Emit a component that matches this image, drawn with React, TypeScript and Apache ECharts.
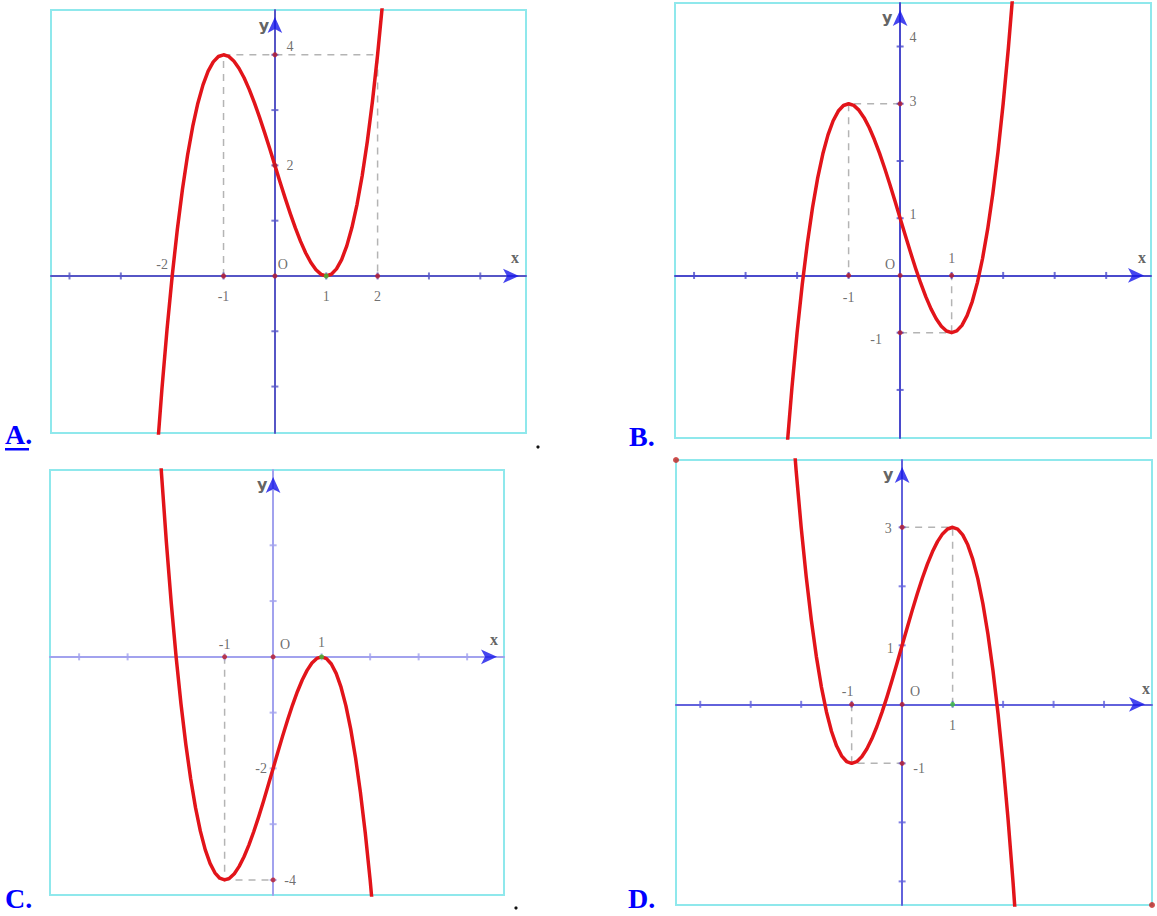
import React, { useEffect, useRef } from "react";
import * as echarts from "echarts";

// x positions at which the curves are read
const XS = [
  -2.4, -2.3, -2.2, -2.1, -2.0, -1.9, -1.8, -1.7, -1.6, -1.5, -1.4, -1.3, -1.2, -1.1, -1.0,
  -0.9, -0.8, -0.7, -0.6, -0.5, -0.4, -0.3, -0.2, -0.1, 0, 0.1, 0.2, 0.3, 0.4, 0.5, 0.6, 0.7,
  0.8, 0.9, 1.0, 1.1, 1.2, 1.3, 1.4, 1.5, 1.6, 1.7, 1.8, 1.9, 2.0, 2.1, 2.2, 2.3, 2.4,
];

const CURVE_A = [
  -4.624, -3.267, -2.048, -0.961, 0, 0.841, 1.568, 2.187, 2.704, 3.125, 3.456, 3.703, 3.872, 3.969, 4,
  3.971, 3.888, 3.757, 3.584, 3.375, 3.136, 2.873, 2.592, 2.299, 2, 1.701, 1.408, 1.127, 0.864, 0.625,
  0.416, 0.243, 0.112, 0.029, 0, 0.031, 0.128, 0.297, 0.544, 0.875, 1.296, 1.813, 2.432, 3.159, 4,
  4.961, 6.048, 7.267, 8.624,
];
const CURVE_B = [
  -5.624, -4.267, -3.048, -1.961, -1, -0.159, 0.568, 1.187, 1.704, 2.125, 2.456, 2.703, 2.872, 2.969, 3,
  2.971, 2.888, 2.757, 2.584, 2.375, 2.136, 1.873, 1.592, 1.299, 1, 0.701, 0.408, 0.127, -0.136, -0.375,
  -0.584, -0.757, -0.888, -0.971, -1, -0.969, -0.872, -0.703, -0.456, -0.125, 0.296, 0.813, 1.432, 2.159, 3,
  3.961, 5.048, 6.267, 7.624,
];
const CURVE_C = [
  4.624, 3.267, 2.048, 0.961, 0, -0.841, -1.568, -2.187, -2.704, -3.125, -3.456, -3.703, -3.872, -3.969, -4,
  -3.971, -3.888, -3.757, -3.584, -3.375, -3.136, -2.873, -2.592, -2.299, -2, -1.701, -1.408, -1.127, -0.864, -0.625,
  -0.416, -0.243, -0.112, -0.029, 0, -0.031, -0.128, -0.297, -0.544, -0.875, -1.296, -1.813, -2.432, -3.159, -4,
  -4.961, -6.048, -7.267, -8.624,
];
const CURVE_D = [
  7.624, 6.267, 5.048, 3.961, 3, 2.159, 1.432, 0.813, 0.296, -0.125, -0.456, -0.703, -0.872, -0.969, -1,
  -0.971, -0.888, -0.757, -0.584, -0.375, -0.136, 0.127, 0.408, 0.701, 1, 1.299, 1.592, 1.873, 2.136, 2.375,
  2.584, 2.757, 2.888, 2.971, 3, 2.969, 2.872, 2.703, 2.456, 2.125, 1.704, 1.187, 0.568, -0.159, -1,
  -1.961, -3.048, -4.267, -5.624,
];

// axis ticks
const TICKS_X = [-4, -3, -2, -1, 1, 2, 3, 4];
const TICKS_Y_A = [-2, -1, 1, 2, 3, 4];
const TICKS_Y_B = [-2, -1, 1, 2, 3, 4];
const TICKS_Y_C = [-4, -3, -2, -1, 1, 2, 3];
const TICKS_Y_D = [-3, -2, -1, 1, 2, 3];

// dashed guide polylines
const GUIDES_A = [[[-1, 0], [-1, 4], [2, 4], [2, 0]]];
const GUIDES_B = [[[0, 3], [-1, 3], [-1, 0]], [[0, -1], [1, -1], [1, 0]]];
const GUIDES_C = [[[-1, 0], [-1, -4], [0, -4]]];
const GUIDES_D = [[[0, 3], [1, 3], [1, 0]], [[-1, 0], [-1, -1], [0, -1]]];

// marked points
const DOTS_A = [[-1, 0], [0, 0], [0, 4], [0, 2], [2, 0]];
const GREEN_A = [[1, 0]];
const DOTS_B = [[-1, 0], [0, 0], [1, 0], [0, 3], [0, -1]];
const GREEN_B = [];
const DOTS_C = [[-1, 0], [0, 0], [0, -4]];
const GREEN_C = [[1, 0]];
const DOTS_D = [[-1, 0], [0, 0], [0, 3], [0, -1]];
const GREEN_D = [[1, 0]];

// tick labels: [text, x, y]
const LABELS_A = [["-2", -2, 0], ["-1", -1, 0], ["1", 1, 0], ["2", 2, 0], ["O", 0, 0], ["4", 0, 4], ["2", 0, 2]];
const LABELS_B = [["4", 0, 4], ["3", 0, 3], ["1", 0, 1], ["O", 0, 0], ["1", 1, 0], ["-1", -1, 0], ["-1", 0, -1]];
const LABELS_C = [["-1", -1, 0], ["O", 0, 0], ["1", 1, 0], ["-2", 0, -2], ["-4", 0, -4]];
const LABELS_D = [["3", 0, 3], ["1", 0, 1], ["-1", -1, 0], ["O", 0, 0], ["1", 1, 0], ["-1", 0, -1]];

const OPTION_NAMES = ["A.", "B.", "C.", "D."];

// layout (pixel offsets of labels relative to their anchor)
const OFF_A = [[-10, -11], [0, 21], [0, 21], [0, 21], [8, -11], [15, -8], [15, 0]];
const OFF_B = [[13, -9], [13, -2], [13, -4], [-10, -11], [0, -17], [0, 22], [-24, 7]];
const OFF_C = [[0, -12], [12, -12], [0, -14], [-12, 0], [17, 1]];
const OFF_D = [[-14, 1], [-12, 3], [-4, -13], [13, -13], [0, 21], [17, 5]];

const PANELS = [
  {
    grid: { left: 51, top: 10, width: 475, height: 423 },
    x: [-4.36, 4.89], y: [-2.84, 4.81], axisColor: "#5656c6",
    curve: CURVE_A, ticksY: TICKS_Y_A, guides: GUIDES_A, dots: DOTS_A, green: GREEN_A,
    labels: LABELS_A, offsets: OFF_A, xOff: [-11, -18], yOff: [-11, 15], corners: false,
  },
  {
    grid: { left: 675, top: 3, width: 476, height: 435 },
    x: [-4.37, 4.87], y: [-2.84, 4.76], axisColor: "#4a4acc",
    curve: CURVE_B, ticksY: TICKS_Y_B, guides: GUIDES_B, dots: DOTS_B, green: GREEN_B,
    labels: LABELS_B, offsets: OFF_B, xOff: [-9, -18], yOff: [-13, 14], corners: false,
  },
  {
    grid: { left: 50, top: 470, width: 454, height: 425 },
    x: [-4.6, 4.76], y: [-4.27, 3.35], axisColor: "#a2a2ee",
    curve: CURVE_C, ticksY: TICKS_Y_C, guides: GUIDES_C, dots: DOTS_C, green: GREEN_C,
    labels: LABELS_C, offsets: OFF_C, xOff: [-10, -17], yOff: [-11, 14], corners: false,
  },
  {
    grid: { left: 676, top: 460, width: 476, height: 445 },
    x: [-4.48, 4.95], y: [-3.4, 4.14], axisColor: "#6262dc",
    curve: CURVE_D, ticksY: TICKS_Y_D, guides: GUIDES_D, dots: DOTS_D, green: GREEN_D,
    labels: LABELS_D, offsets: OFF_D, xOff: [-6, -16], yOff: [-14, 14], corners: true,
  },
];

const LABEL_FONT = "'Liberation Serif', 'Times New Roman', serif";

function buildOption() {
  const grid: any[] = [];
  const xAxis: any[] = [];
  const yAxis: any[] = [];
  const series: any[] = [];

  PANELS.forEach((p, i) => {
    grid.push({
      ...p.grid,
      show: true,
      borderColor: "#8fe8ec",
      borderWidth: 2,
      backgroundColor: "#ffffff",
    });
    const axisCommon = {
      type: "value",
      gridIndex: i,
      splitLine: { show: false },
      axisLabel: { show: false },
      axisTick: { show: false },
      axisLine: { show: true, onZero: true, lineStyle: { color: p.axisColor, width: 2 } },
    };
    xAxis.push({ ...axisCommon, min: p.x[0], max: p.x[1] });
    yAxis.push({ ...axisCommon, min: p.y[0], max: p.y[1] });

    const idx = { xAxisIndex: i, yAxisIndex: i };

    p.guides.forEach((g) => {
      series.push({
        type: "line", ...idx, data: g, symbol: "none", z: 2,
        lineStyle: { color: "#b4b4b4", width: 1.5, type: [7, 6] },
        silent: true,
      });
    });

    series.push({
      type: "scatter", ...idx, z: 3, symbol: "rect",
      itemStyle: { color: p.axisColor },
      data: [
        ...TICKS_X.map((v) => ({ value: [v, 0], symbolSize: [2, 7] })),
        ...p.ticksY.map((v) => ({ value: [0, v], symbolSize: [7, 2] })),
      ],
    });

    series.push({
      type: "line", ...idx, z: 4, symbol: "none", clip: true,
      data: XS.map((x, j) => [x, p.curve[j]]),
      lineStyle: { color: "#e2141a", width: 3.5, cap: "round", join: "round" },
    });

    series.push({
      type: "scatter", ...idx, z: 5, symbolSize: 5,
      itemStyle: { color: "#b8192a" },
      data: p.dots,
    });
    if (p.green.length) {
      series.push({
        type: "scatter", ...idx, z: 5, symbolSize: 5,
        itemStyle: { color: "#3cc03c" },
        data: p.green,
      });
    }
    if (p.corners) {
      series.push({
        type: "scatter", ...idx, z: 6, symbolSize: 6, clip: false,
        itemStyle: { color: "#c0201e" },
        data: [[p.x[0], p.y[1]], [p.x[1], p.y[0]]],
      });
    }

    // arrow heads
    series.push({
      type: "scatter", ...idx, z: 7, clip: false, symbol: "arrow",
      itemStyle: { color: "#1616ea" },
      data: [
        { value: [p.x[1], 0], symbolRotate: -90, symbolSize: [11, 16], symbolOffset: [-7, 0] },
        { value: [0, p.y[1]], symbolRotate: 0, symbolSize: [11, 16], symbolOffset: [0, 7] },
      ],
    });

    // text labels
    const labelItems: any[] = p.labels.map((l: any, k: number) => ({
      value: [l[1], l[2]],
      label: { formatter: l[0], offset: p.offsets[k] },
    }));
    labelItems.push({
      value: [p.x[1], 0],
      label: { formatter: "x", offset: p.xOff, fontSize: 16, color: "#3a3a3a", fontWeight: "bold" },
    });
    labelItems.push({
      value: [0, p.y[1]],
      label: { formatter: "y", offset: p.yOff, fontSize: 16, color: "#3a3a3a", fontWeight: "bold", fontFamily: "'DejaVu Sans', sans-serif" },
    });
    series.push({
      type: "scatter", ...idx, z: 8, clip: false, symbolSize: 1,
      itemStyle: { color: "rgba(0,0,0,0)" },
      label: {
        show: true, position: "inside", fontFamily: LABEL_FONT, fontSize: 14,
        color: "#4a4a4a", align: "center", verticalAlign: "middle",
      },
      data: labelItems,
    });
  });

  const letterPos = [
    [5, 448],
    [629, 450],
    [5, 912],
    [628, 912],
  ];
  const graphic: any[] = OPTION_NAMES.map((t, i) => ({
    type: "text",
    x: letterPos[i][0],
    y: letterPos[i][1],
    z: 10,
    style: {
      text: t,
      fill: "#0000ff",
      font: "bold 28px 'Liberation Serif', 'Times New Roman', serif",
      align: "left",
      verticalAlign: "bottom",
    },
  }));
  graphic.push({ type: "rect", shape: { x: 5, y: 448, width: 24, height: 2.5 }, style: { fill: "#0000ff" }, z: 10 });
  graphic.push({ type: "circle", shape: { cx: 538, cy: 447, r: 1.6 }, style: { fill: "#111" }, z: 10 });
  graphic.push({ type: "circle", shape: { cx: 516, cy: 908, r: 1.6 }, style: { fill: "#111" }, z: 10 });

  return {
    animation: false,
    backgroundColor: "#ffffff",
    grid, xAxis, yAxis, series, graphic,
  };
}

export default function App() {
  const ref = useRef<HTMLDivElement>(null);
  useEffect(() => {
    if (!ref.current) return;
    const chart = echarts.init(ref.current, undefined, { renderer: "svg" });
    chart.setOption(buildOption() as any);
    return () => chart.dispose();
  }, []);
  return (
    <div
      ref={ref}
      style={{ position: "absolute", left: 0, top: 0, width: 1157, height: 916, background: "#fff" }}
    />
  );
}
